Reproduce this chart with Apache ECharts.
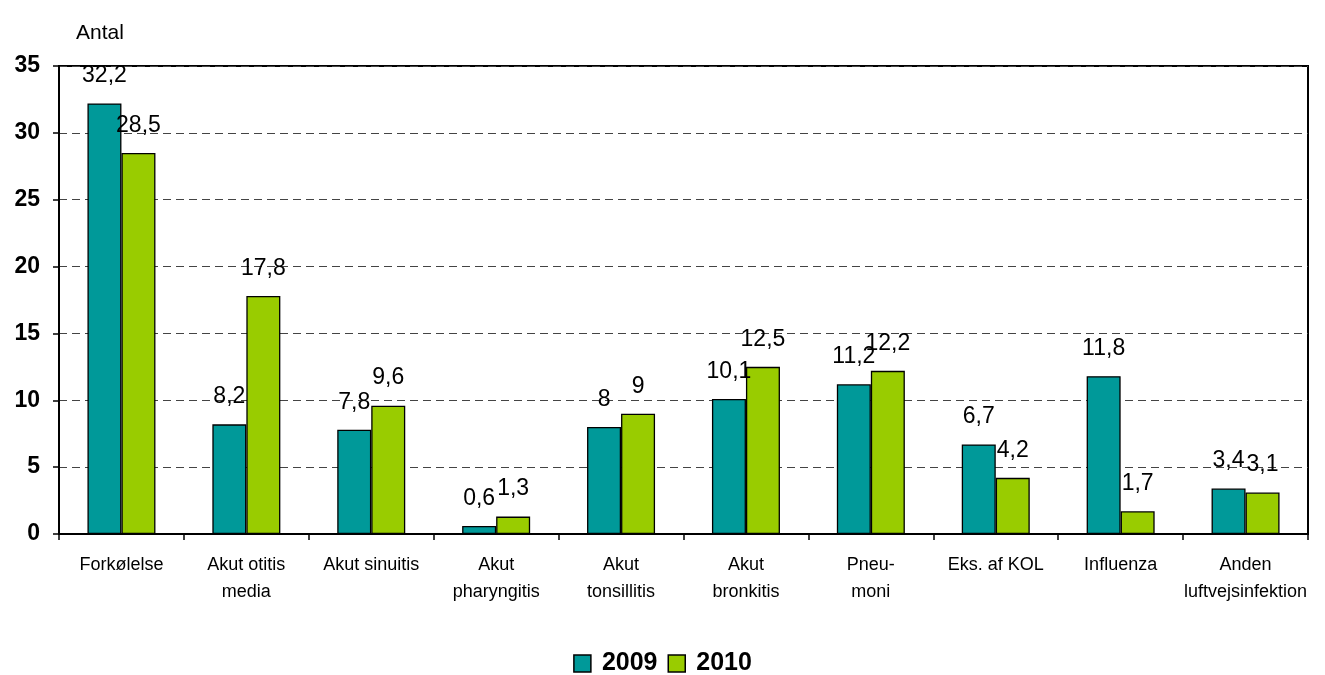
<!DOCTYPE html>
<html><head><meta charset="utf-8">
<script src="https://cdn.jsdelivr.net/npm/echarts@6/dist/echarts.min.js"></script>
<style>html,body{margin:0;padding:0;background:#fff}#c{width:1325px;height:675px}</style>
</head><body><div id="c"></div>
<script>
const categories = ['Forkølelse','Akut otitis\nmedia','Akut sinuitis','Akut\npharyngitis','Akut\ntonsillitis','Akut\nbronkitis','Pneu-\nmoni','Eks. af KOL','Influenza','Anden\nluftvejsinfektion'];
const series2009 = [32.2, 8.2, 7.8, 0.6, 8, 10.1, 11.2, 6.7, 11.8, 3.4];
const series2010 = [28.5, 17.8, 9.6, 1.3, 9, 12.5, 12.2, 4.2, 1.7, 3.1];
const yTicks = [0,5,10,15,20,25,30,35];
const fontFam = '"Liberation Sans", Arial, sans-serif';
const fmt = p => String(p.value).replace('.', ',');
const chart = echarts.init(document.getElementById('c'));
const mk = (name, data, color) => ({
  name, type: 'bar', data, barWidth: 34, barGap: '0%',
  itemStyle: {color, borderColor: '#000', borderWidth: 1.3},
  label: {show: true, position: 'top', distance: 16, formatter: fmt, color: '#000', fontSize: 23, fontFamily: fontFam}
});
chart.setOption({
  animation: false,
  grid: {left: 59, right: 17, top: 66, bottom: 141, show: true, borderColor: '#000', borderWidth: 2},
  legend: {bottom: -6, left: 'center', icon: 'rect', itemWidth: 17, itemHeight: 17, itemGap: 10,
    textStyle: {fontSize: 25, fontWeight: 'bold', fontFamily: fontFam, color: '#000', padding: [0,0,0,6]},
    itemStyle: {borderColor: '#000', borderWidth: 1.5},
    data: ['2009','2010']},
  xAxis: {type: 'category', data: categories,
    axisLine: {lineStyle: {color: '#000', width: 2}},
    axisTick: {show: true, length: 6, lineStyle: {color: '#000', width: 1.5}},
    axisLabel: {color: '#000', fontSize: 18, fontFamily: fontFam, margin: 18, lineHeight: 27, interval: 0}},
  yAxis: {type: 'value', min: 0, max: 35, interval: 5, name: 'Antal',
    nameLocation: 'end', nameGap: 22, nameTextStyle: {color: '#000', fontSize: 21, fontFamily: fontFam, align: 'left', padding: [0,0,0,17]},
    axisLine: {show: true, lineStyle: {color: '#000', width: 2}},
    axisTick: {show: true, length: 6, lineStyle: {color: '#000', width: 1.5}},
    axisLabel: {color: '#000', fontSize: 23, fontWeight: 'bold', fontFamily: fontFam, margin: 19,
      formatter: v => yTicks.includes(v) ? String(v) : ''},
    splitLine: {show: true, lineStyle: {color: '#444', type: [8,5], width: 1}}},
  series: [mk('2009', series2009, '#009999'), mk('2010', series2010, '#99CC00')]
});
</script></body></html>
